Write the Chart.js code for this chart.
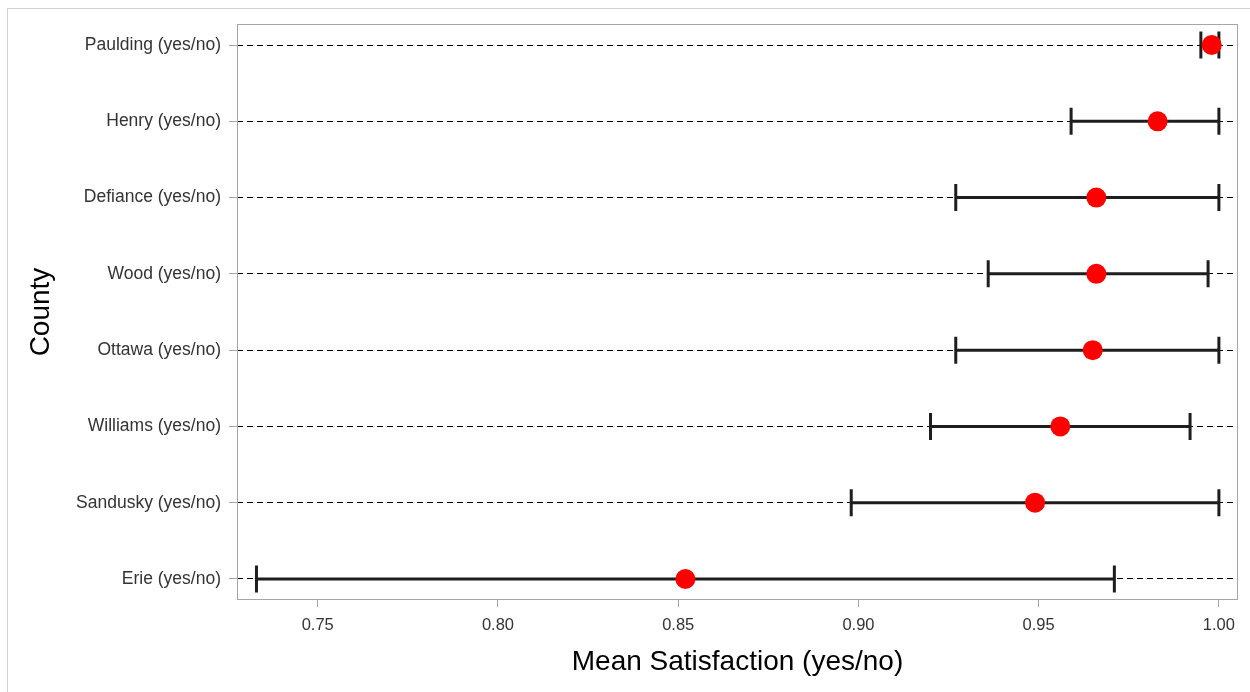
<!DOCTYPE html>
<html>
<head>
<meta charset="utf-8">
<script src="https://cdn.jsdelivr.net/npm/chart.js@4/dist/chart.umd.min.js"></script>
<style>
  html, body { margin: 0; padding: 0; background: #fff; }
  #frame {
    position: absolute; left: 7px; top: 8px; width: 1300px; height: 700px;
    border-left: 1px solid #d4d4d4; border-top: 1px solid #d4d4d4;
  }
  #wrap { position: absolute; left: 0; top: 0; width: 1250px; height: 692px; }
</style>
</head>
<body>
<div id="frame"></div>
<div id="wrap"><canvas id="chart" width="1250" height="692"></canvas></div>
<script>
// ── Data ────────────────────────────────────────────────────────────
const COUNTIES = [
  'Paulding (yes/no)', 'Henry (yes/no)', 'Defiance (yes/no)', 'Wood (yes/no)',
  'Ottawa (yes/no)', 'Williams (yes/no)', 'Sandusky (yes/no)', 'Erie (yes/no)',
];
const MEANS = [0.998, 0.983, 0.966, 0.966, 0.965, 0.956, 0.949, 0.852];
const LOWER = [0.995, 0.959, 0.927, 0.936, 0.927, 0.920, 0.898, 0.733];
const UPPER = [1.000, 1.000, 1.000, 0.997, 1.000, 0.992, 1.000, 0.971];
const X_TICKS = [0.75, 0.80, 0.85, 0.90, 0.95, 1.00];

const FONT = "'Liberation Sans', Arial, sans-serif";
const FRAME_GRAY = '#a3a7ab';

// ── Plugins ─────────────────────────────────────────────────────────
const plotFrame = {
  id: 'plotFrame',
  beforeDatasetsDraw(chart) {
    const { ctx, chartArea: a } = chart;
    ctx.save();
    ctx.strokeStyle = FRAME_GRAY;
    ctx.lineWidth = 1;
    ctx.strokeRect(a.left + 0.5, a.top + 0.5, a.right - a.left - 1, a.bottom - a.top - 1);
    ctx.restore();
  },
};

const errorBars = {
  id: 'errorBars',
  beforeDatasetsDraw(chart) {
    const { ctx, scales: { x, y } } = chart;
    const cap = 13.5;
    ctx.save();
    ctx.strokeStyle = '#1e1e1e';
    ctx.lineWidth = 3;
    COUNTIES.forEach((c, i) => {
      const py = y.getPixelForValue(i);
      const x0 = x.getPixelForValue(LOWER[i]);
      const x1 = x.getPixelForValue(UPPER[i]);
      ctx.beginPath();
      ctx.moveTo(x0, py); ctx.lineTo(x1, py);
      ctx.moveTo(x0, py - cap); ctx.lineTo(x0, py + cap);
      ctx.moveTo(x1, py - cap); ctx.lineTo(x1, py + cap);
      ctx.stroke();
    });
    ctx.restore();
  },
};

// ── Chart ───────────────────────────────────────────────────────────
new Chart(document.getElementById('chart'), {
  type: 'scatter',
  data: {
    datasets: [{
      data: MEANS.map((m, i) => ({ x: m, y: i })),
      backgroundColor: '#ff0000',
      borderWidth: 0,
      pointRadius: 10,
      pointHoverRadius: 10,
    }],
  },
  options: {
    responsive: false,
    animation: false,
    events: [],
    layout: { padding: { left: 0, top: 24, right: 12, bottom: 0 } },
    plugins: { legend: { display: false }, tooltip: { enabled: false } },
    scales: {
      x: {
        type: 'linear',
        min: 0.7276,
        max: 1.0053,
        afterBuildTicks: s => { s.ticks = X_TICKS.map(v => ({ value: v })); },
        afterFit: s => { s.height = 92; },
        grid: { drawOnChartArea: false, tickLength: 7, tickColor: FRAME_GRAY },
        border: { display: false },
        ticks: {
          padding: 9,
          color: '#333',
          font: { family: FONT, size: 16.5 },
          callback: v => v.toFixed(2),
        },
        title: {
          display: true,
          text: 'Mean Satisfaction (yes/no)',
          color: '#000',
          font: { family: FONT, size: 28 },
          padding: { top: 0, bottom: 13 },
        },
      },
      y: {
        type: 'linear',
        reverse: true,
        min: -0.276,
        max: 7.276,
        afterBuildTicks: s => { s.ticks = COUNTIES.map((c, i) => ({ value: i })); },
        afterFit: s => { s.width = 237; },
        grid: {
          color: '#000',
          lineWidth: 1,
          tickLength: 8,
          tickColor: FRAME_GRAY,
          tickBorderDash: [],
        },
        border: { display: false, dash: [6, 4] },
        ticks: {
          padding: 8,
          color: '#333',
          font: { family: FONT, size: 17.5 },
          callback: v => COUNTIES[v],
        },
        title: {
          display: true,
          text: 'County',
          color: '#000',
          font: { family: FONT, size: 28 },
          padding: { top: 24, bottom: 0 },
        },
      },
    },
  },
  plugins: [plotFrame, errorBars],
});
</script>
</body>
</html>
